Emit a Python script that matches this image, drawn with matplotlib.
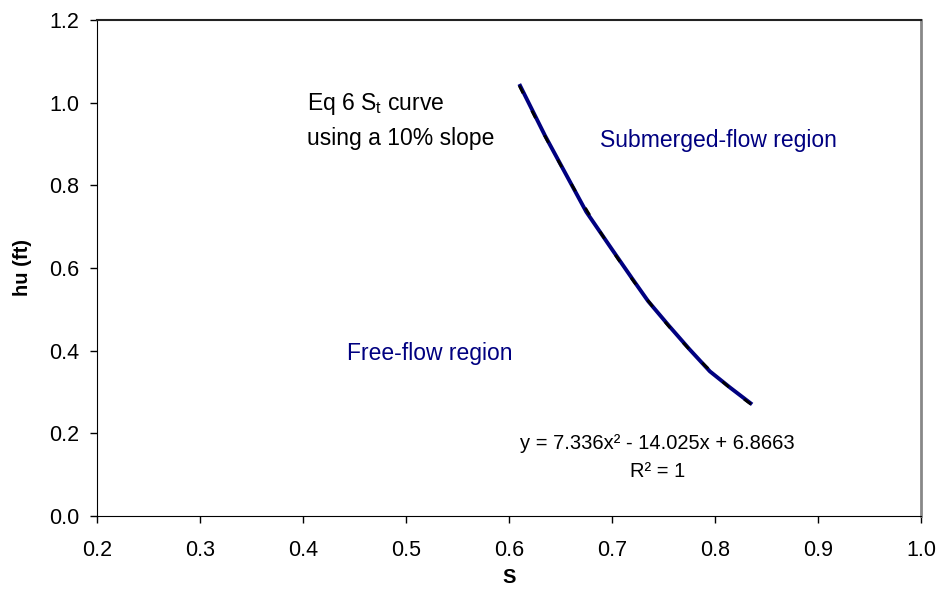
import numpy as np
import matplotlib
matplotlib.use("Agg")
import matplotlib.pyplot as plt

plt.rcParams['font.family'] = ['Liberation Sans', 'DejaVu Sans']

# data
s_vals = [0.610, 0.635, 0.655, 0.675, 0.700, 0.720, 0.735, 0.755, 0.775, 0.795, 0.815, 0.836]
hu_vals = [1.045, 0.920, 0.828, 0.736, 0.645, 0.573, 0.520, 0.461, 0.404, 0.350, 0.310, 0.270]

# trendline coefficients shown on the chart
trend_coef = [7.336, -14.025, 6.8663]
trend_label = "y = 7.336x² - 14.025x + 6.8663"
r2_label = "R² = 1"

x_ticks = [0.2, 0.3, 0.4, 0.5, 0.6, 0.7, 0.8, 0.9, 1.0]
y_ticks = [0.0, 0.2, 0.4, 0.6, 0.8, 1.0, 1.2]

navy = '#000080'

fig = plt.figure(figsize=(9.4, 5.93), dpi=100)
ax = fig.add_axes([97 / 940, 1 - 516 / 593, (921 - 97) / 940, (516 - 20) / 593])

ax.plot(s_vals, hu_vals, color=navy, lw=2.8, solid_capstyle='butt', zorder=2)
xt = np.linspace(min(s_vals), max(s_vals), 200)
ax.plot(xt, np.polyval(trend_coef, xt), color='black', lw=2.0,
        dashes=(3, 7), zorder=3)

ax.set_xlim(0.2, 1.0)
ax.set_ylim(0.0, 1.2)
ax.set_xticks(x_ticks)
ax.set_yticks(y_ticks)
ax.set_xticklabels([f"{v:.1f}" for v in x_ticks])
ax.set_yticklabels([f"{v:.1f}" for v in y_ticks])
ax.tick_params(axis='both', direction='out', length=5, width=1, labelsize=15.5, colors='black')
ax.tick_params(axis='x', pad=12)
ax.tick_params(axis='y', pad=8)

ax.spines['left'].set_color('black')
ax.spines['bottom'].set_color('black')
ax.spines['top'].set_color('#222222')
ax.spines['top'].set_linewidth(1.5)
ax.spines['right'].set_color('#888888')
ax.spines['right'].set_linewidth(2)

ax.set_xlabel('S', fontsize=14.5, fontweight='bold', labelpad=5)
ax.set_ylabel('hu (ft)', fontsize=14.5, fontweight='bold', labelpad=12)

ax.text(0.404, 0.983, 'Eq 6 S$_\\mathregular{t}$ curve', fontsize=16.5, color='black')
ax.text(0.404, 0.898, 'using a 10% slope', fontsize=16.5, color='black')
ax.text(0.688, 0.893, 'Submerged-flow region', fontsize=16.5, color=navy)
ax.text(0.443, 0.378, 'Free-flow region', fontsize=16.5, color=navy)
ax.text(0.744, 0.162, trend_label, fontsize=14.5, ha='center')
ax.text(0.744, 0.094, r2_label, fontsize=14.5, ha='center')

fig.savefig('out.png', dpi=100)
